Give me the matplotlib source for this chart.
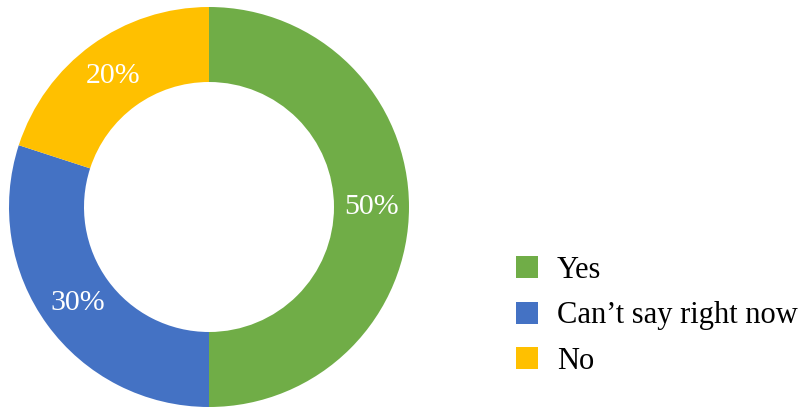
import matplotlib.pyplot as plt

labels = ["Yes", "Can\u2019t say right now", "No"]
values = [50, 30, 20]
colors = ["#70AD47", "#4472C4", "#FFC000"]

plt.rcParams["font.family"] = ["Liberation Serif", "DejaVu Serif"]

fig = plt.figure(figsize=(8.06, 4.07), dpi=100)
# pie axes: 400x400 px box, centre at (209, 207) from top-left
ax = fig.add_axes([9 / 806, 0 / 407, 400 / 806, 400 / 407])

wedges, texts, autotexts = ax.pie(
    values,
    colors=colors,
    startangle=90,
    counterclock=False,
    radius=1.0,
    wedgeprops=dict(width=0.375, edgecolor="none"),
    autopct="%d%%",
    pctdistance=0.8125,
    textprops=dict(color="white", fontsize=21.5),
)
ax.set_xlim(-1, 1)
ax.set_ylim(-1, 1)
ax.set_aspect("equal")
ax.axis("off")

fig.legend(
    wedges,
    labels,
    loc="center left",
    bbox_to_anchor=(516 / 806, 1 - 316 / 407),
    frameon=False,
    borderpad=0,
    borderaxespad=0,
    fontsize=22,
    handlelength=0.72,
    handleheight=0.72,
    handletextpad=0.62,
    labelspacing=0.54,
)

fig.savefig("out.png", dpi=100)
